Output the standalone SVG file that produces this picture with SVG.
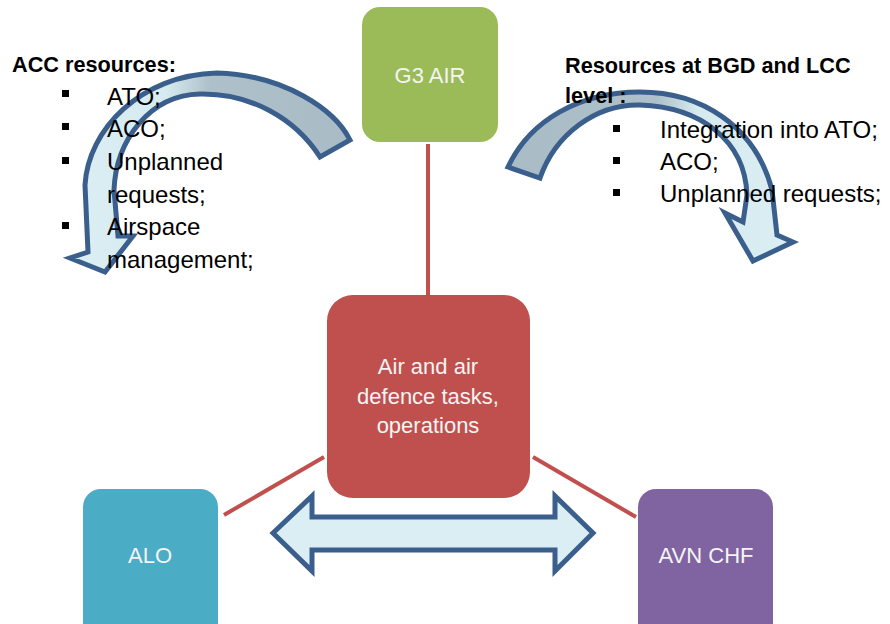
<svg xmlns="http://www.w3.org/2000/svg" width="890" height="624" viewBox="0 0 890 624">
<defs>
<linearGradient id="gL" gradientUnits="userSpaceOnUse" x1="350" y1="0" x2="80" y2="0">
<stop offset="0" stop-color="#A9BBC4"/>
<stop offset="0.52" stop-color="#AEC1CA"/>
<stop offset="0.68" stop-color="#D6EAF0"/>
<stop offset="1" stop-color="#DBEEF4"/>
</linearGradient>
<linearGradient id="gR" gradientUnits="userSpaceOnUse" x1="508" y1="0" x2="795" y2="0">
<stop offset="0" stop-color="#A9BBC4"/>
<stop offset="0.52" stop-color="#AEC1CA"/>
<stop offset="0.66" stop-color="#D6EAF0"/>
<stop offset="1" stop-color="#DBEEF4"/>
</linearGradient>
<style>
.arrow{stroke:#3A5F8C;stroke-width:5;stroke-linejoin:miter}
.link{stroke:#C0504D;stroke-width:4;fill:none}
.label{font-family:"Liberation Sans",Arial,sans-serif;font-size:22px;fill:#F4F4F4;text-anchor:middle}
.head{font-family:"Liberation Sans",Arial,sans-serif;font-size:21.7px;font-weight:bold;fill:#000}
.item{font-family:"Liberation Sans",Arial,sans-serif;font-size:24px;fill:#000}
.bul{fill:#000}
</style>
</defs>
<rect width="890" height="624" fill="#FFFFFF"/>

<g id="connectors">
<line class="link" x1="428" y1="144" x2="428" y2="295"/>
<line class="link" x1="224" y1="515" x2="324" y2="457"/>
<line class="link" x1="533" y1="457" x2="636" y2="517"/>
</g>

<g id="node-g3air">
<rect x="362" y="7" width="136" height="135" rx="18" fill="#9BBB59"/>
<text class="label" x="430" y="83">G3 AIR</text>
</g>

<g id="node-center">
<rect x="327" y="295" width="203" height="203" rx="26" fill="#C0504D"/>
<text class="label" x="428" y="374">Air and air</text>
<text class="label" x="428" y="404">defence tasks,</text>
<text class="label" x="428" y="433">operations</text>
</g>

<g id="node-alo">
<rect x="83" y="489" width="135" height="160" rx="18" fill="#4BACC6"/>
<text class="label" x="150" y="563">ALO</text>
</g>

<g id="node-avn">
<rect x="638" y="489" width="135" height="160" rx="18" fill="#8064A2"/>
<text class="label" x="706" y="563">AVN CHF</text>
</g>

<g id="double-arrow">
<path class="arrow" fill="#DBEEF4" d="M273,533 L312,496 L312,517 L555,517 L555,496 L593,533 L555,571 L555,550 L312,550 L312,571 Z"/>
</g>

<g id="curved-arrow-left">
<path class="arrow" fill="url(#gL)" d="M350,140 C335,110 285,75 217,73 C140,75 88,130 85,185 L88,252 L70,258 L105,272 L133,236 L118,236 L114,190 C116,140 150,95 200,94 C250,93 295,118 320,157 Z"/>
</g>

<g id="curved-arrow-right">
<path class="arrow" fill="url(#gR)" d="M508,167 C530,120 580,92 640,92 C700,92 755,125 772,190 L777,235 L793,242 L753,261 L725,213 L743,222 L747,195 C745,140 700,107 640,105 C595,104 555,135 540,178 Z"/>
</g>

<g id="text-left">
<text class="head" x="12" y="72">ACC resources:</text>
<rect class="bul" x="62" y="90" width="7" height="7"/>
<rect class="bul" x="62" y="123" width="7" height="7"/>
<rect class="bul" x="62" y="157" width="7" height="7"/>
<rect class="bul" x="62" y="222" width="7" height="7"/>
<text class="item" x="107" y="105">ATO;</text>
<text class="item" x="107" y="137">ACO;</text>
<text class="item" x="107" y="170">Unplanned</text>
<text class="item" x="107" y="203">requests;</text>
<text class="item" x="107" y="235">Airspace</text>
<text class="item" x="107" y="268">management;</text>
</g>

<g id="text-right">
<text class="head" x="565" y="73">Resources at BGD and LCC</text>
<text class="head" x="565" y="103">level :</text>
<rect class="bul" x="613" y="125" width="7" height="7"/>
<rect class="bul" x="613" y="157" width="7" height="7"/>
<rect class="bul" x="613" y="189" width="7" height="7"/>
<text class="item" x="660" y="138">Integration into ATO;</text>
<text class="item" x="660" y="170">ACO;</text>
<text class="item" x="660" y="202">Unplanned requests;</text>
</g>
</svg>
